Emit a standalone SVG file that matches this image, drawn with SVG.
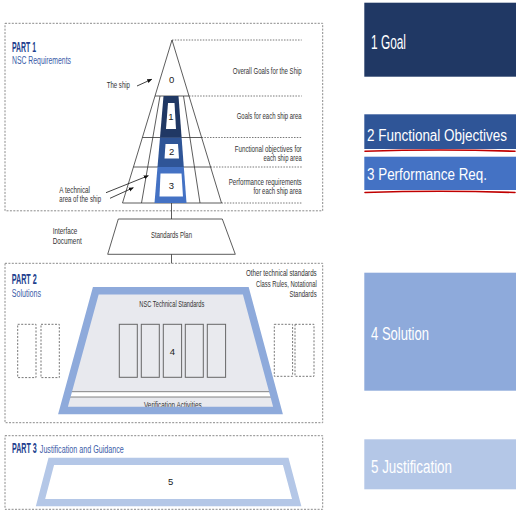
<svg xmlns="http://www.w3.org/2000/svg" width="523" height="513" viewBox="0 0 523 513">
<defs>
<marker id="ah" viewBox="0 0 10 10" refX="9" refY="5" markerWidth="5" markerHeight="5" orient="auto" markerUnits="userSpaceOnUse">
<path d="M0,1 L10,5 L0,9 z" fill="#111"/>
</marker>
<style>
.part{fill:none;stroke:#8a8a8a;stroke-width:1;stroke-dasharray:2,1.4}
.dot{fill:none;stroke:#555;stroke-width:0.8;stroke-dasharray:1.5,1.3}
.ln{fill:none;stroke:#333;stroke-width:0.8}
.lbl{font-family:"Liberation Sans Narrow","Liberation Sans",sans-serif;font-size:9px;fill:#333}
.num{font-family:"Liberation Sans Narrow","Liberation Sans",sans-serif;font-size:9.5px;fill:#222;text-anchor:middle}
.ptitle{font-family:"Liberation Sans",sans-serif;font-size:15px;font-weight:bold;fill:#233f8e}
.psub{font-family:"Liberation Sans Narrow","Liberation Sans",sans-serif;font-size:10px;fill:#3b5ca8}
.btxt{font-family:"Liberation Sans",sans-serif;fill:#fff}
.dbox{fill:none;stroke:#777;stroke-width:1;stroke-dasharray:2,1.5}
.col{fill:#e9eaee;stroke:#666;stroke-width:1}
.red{fill:none;stroke:#c00000;stroke-width:1.6;stroke-linecap:round}
</style>
</defs>
<rect width="523" height="513" fill="#fff"/>

<g id="part1">
<rect class="part" x="5" y="23.3" width="317.7" height="187.5"/>
<text class="ptitle" transform="translate(12,51.7) scale(0.46,1)">PART 1</text>
<text class="psub" x="12" y="64" textLength="59" lengthAdjust="spacingAndGlyphs">NSC Requirements</text>
</g>

<g id="pyramid">
<line class="dot" x1="172" y1="40" x2="301.7" y2="40"/>
<line class="dot" x1="189" y1="96" x2="301.7" y2="96"/>
<line class="dot" x1="201.6" y1="137.5" x2="301.7" y2="137.5"/>
<line class="dot" x1="210.6" y1="167" x2="301.7" y2="167"/>
<line class="dot" x1="221.5" y1="203" x2="301.7" y2="203"/>
<polygon class="ln" points="172,40 221.5,203 122.5,203" fill="#fff"/>
<line class="ln" x1="155" y1="96" x2="189" y2="96"/>
<line class="ln" x1="142.4" y1="137.5" x2="201.6" y2="137.5"/>
<line class="ln" x1="133.4" y1="167" x2="210.6" y2="167"/>
<line class="ln" x1="160" y1="96" x2="141.5" y2="203"/>
<line class="ln" x1="183.5" y1="96" x2="200" y2="203"/>
<polygon points="163.5,96 178.5,96 181.6,137.5 160,137.5" fill="#203864"/>
<polygon points="160,137.5 181.6,137.5 183.8,167 157.5,167" fill="#2f5597"/>
<polygon points="157.5,167 183.8,167 186.5,203 154.5,203" fill="#4472c4"/>
<polygon points="168,103 174.5,103 176,129 166,129" fill="#fff"/>
<polygon points="165.5,144 178,144 179,158.5 164.5,158.5" fill="#fff"/>
<polygon points="160.5,173.5 181.5,173.5 183,196.5 159.5,196.5" fill="#fff"/>
<text class="num" x="171.7" y="83">0</text>
<text class="num" x="171" y="120">1</text>
<text class="num" x="171.7" y="155">2</text>
<text class="num" x="171.5" y="189">3</text>
</g>

<g id="pyramid-labels">
<text class="lbl" x="301.7" y="74" text-anchor="end" textLength="69" lengthAdjust="spacingAndGlyphs">Overall Goals for the Ship</text>
<text class="lbl" x="301.7" y="119.3" text-anchor="end" textLength="65" lengthAdjust="spacingAndGlyphs">Goals for each ship area</text>
<text class="lbl" x="301.7" y="152" text-anchor="end" textLength="67" lengthAdjust="spacingAndGlyphs">Functional objectives for</text>
<text class="lbl" x="301.7" y="160.5" text-anchor="end" textLength="38.3" lengthAdjust="spacingAndGlyphs">each ship area</text>
<text class="lbl" x="301.7" y="185.3" text-anchor="end" textLength="73" lengthAdjust="spacingAndGlyphs">Performance requirements</text>
<text class="lbl" x="301.7" y="194" text-anchor="end" textLength="48.3" lengthAdjust="spacingAndGlyphs">for each ship area</text>
<text class="lbl" x="106.7" y="88.3" textLength="23.3" lengthAdjust="spacingAndGlyphs">The ship</text>
<text class="lbl" x="59.3" y="192.7" textLength="30.7" lengthAdjust="spacingAndGlyphs">A technical</text>
<text class="lbl" x="59.3" y="202.3" textLength="41.7" lengthAdjust="spacingAndGlyphs">area of the ship</text>
<text class="lbl" x="52.7" y="234.3" textLength="24.7" lengthAdjust="spacingAndGlyphs">Interface</text>
<text class="lbl" x="52.7" y="244.3" textLength="29" lengthAdjust="spacingAndGlyphs">Document</text>
</g>

<g id="standards-plan">
<polygon class="ln" points="118.3,219 222.3,219 235.3,254.3 107.7,254.3" fill="#fff"/>
<text class="lbl" x="171.5" y="238.3" text-anchor="middle" textLength="41" lengthAdjust="spacingAndGlyphs">Standards Plan</text>
</g>

<g id="part2">
<rect class="part" x="5" y="263.3" width="317.7" height="159.4"/>
<text class="ptitle" transform="translate(11.7,284.3) scale(0.48,1)">PART 2</text>
<text class="psub" x="11.7" y="296.7" textLength="29.3" lengthAdjust="spacingAndGlyphs">Solutions</text>
<text class="lbl" x="316.7" y="276" text-anchor="end" textLength="70.7" lengthAdjust="spacingAndGlyphs">Other technical standards</text>
<text class="lbl" x="316.7" y="286.7" text-anchor="end" textLength="60.7" lengthAdjust="spacingAndGlyphs">Class Rules, Notational</text>
<text class="lbl" x="316.7" y="296.7" text-anchor="end" textLength="27.3" lengthAdjust="spacingAndGlyphs">Standards</text>
<rect class="dbox" x="17.7" y="324.3" width="18.3" height="53.3"/>
<rect class="dbox" x="41" y="324.3" width="18.3" height="53.3"/>
<rect class="dbox" x="274.3" y="324.3" width="18.3" height="52"/>
<rect class="dbox" x="295" y="324.3" width="19" height="52"/>
</g>

<g id="solution">
<polygon points="95.8,290.8 245.8,290.8 278,410.5 63,410.5" fill="#e8e9ee"/>
<polygon points="69,391.7 274,391.7 275.5,397 67.5,397" fill="#fff" stroke="#666" stroke-width="0.8"/>
<text class="lbl" x="172.8" y="407.5" text-anchor="middle" textLength="57.7" lengthAdjust="spacingAndGlyphs">Verification Activities</text>
<polygon points="95.8,290.8 245.8,290.8 278,410.5 63,410.5" fill="none" stroke="#8eaadb" stroke-width="7.5"/>
<text class="lbl" x="171.8" y="306.7" text-anchor="middle" textLength="65" lengthAdjust="spacingAndGlyphs">NSC Technical Standards</text>
<rect class="col" x="119.3" y="324.3" width="18" height="53"/>
<rect class="col" x="141.3" y="324.3" width="18" height="53"/>
<rect class="col" x="163.3" y="324.3" width="18.3" height="53"/>
<rect class="col" x="185.3" y="324.3" width="18" height="53"/>
<rect class="col" x="207.3" y="324.3" width="18.3" height="53"/>
<text class="num" x="172.5" y="354.5">4</text>
</g>

<g id="part3">
<rect class="part" x="5" y="435.7" width="317.7" height="73.6"/>
<text class="ptitle" transform="translate(12,453.3) scale(0.475,1)">PART 3</text>
<text class="psub" x="39.8" y="453.3" textLength="84" lengthAdjust="spacingAndGlyphs">Justification and Guidance</text>
<polygon points="51.3,461.3 285.7,461.3 296.7,502.7 40.5,502.7" fill="#fff" stroke="#b4c7e7" stroke-width="7.2"/>
<text class="num" x="170.7" y="485">5</text>
</g>

<g id="connectors">
<line class="ln" x1="171.5" y1="203" x2="171.5" y2="219"/>
<line class="ln" x1="171.5" y1="254.3" x2="171.5" y2="263.3"/>
<line x1="137" y1="86" x2="151.7" y2="79.3" stroke="#111" stroke-width="0.8" marker-end="url(#ah)"/>
<line x1="106" y1="192.7" x2="148.3" y2="175.7" stroke="#111" stroke-width="0.8" marker-end="url(#ah)"/>
<line x1="110" y1="198.3" x2="133.3" y2="187.7" stroke="#111" stroke-width="0.8" marker-end="url(#ah)"/>
</g>

<g id="box1">
<rect x="364.3" y="2.7" width="151.7" height="74" fill="#203864"/>
<text class="btxt" x="371" y="49" font-size="20.5" textLength="35" lengthAdjust="spacingAndGlyphs">1 Goal</text>
</g>
<g id="box2">
<rect x="364.3" y="114.3" width="151.7" height="34.7" fill="#2f5597"/>
<text class="btxt" font-size="16" transform="translate(367,140.7) scale(0.842,1)">2 Functional Objectives</text>
<path class="red" d="M365,151.3 C410,149.8 470,149.8 515,151.3"/>
</g>
<g id="box3">
<rect x="364.3" y="156.7" width="151.7" height="33.3" fill="#4472c4"/>
<text class="btxt" x="367" y="180.3" font-size="16" textLength="120" lengthAdjust="spacingAndGlyphs">3 Performance Req.</text>
<path class="red" d="M365,192.5 C410,191 470,191 515,192.5"/>
</g>
<g id="box4">
<rect x="364.3" y="272.7" width="151.7" height="118" fill="#8eaadb"/>
<text class="btxt" x="371" y="340" font-size="18" textLength="58" lengthAdjust="spacingAndGlyphs">4 Solution</text>
</g>
<g id="box5">
<rect x="364.3" y="439.3" width="151.7" height="50" fill="#b4c7e7"/>
<text class="btxt" x="371" y="472.7" font-size="18" textLength="81" lengthAdjust="spacingAndGlyphs">5 Justification</text>
</g>
</svg>
